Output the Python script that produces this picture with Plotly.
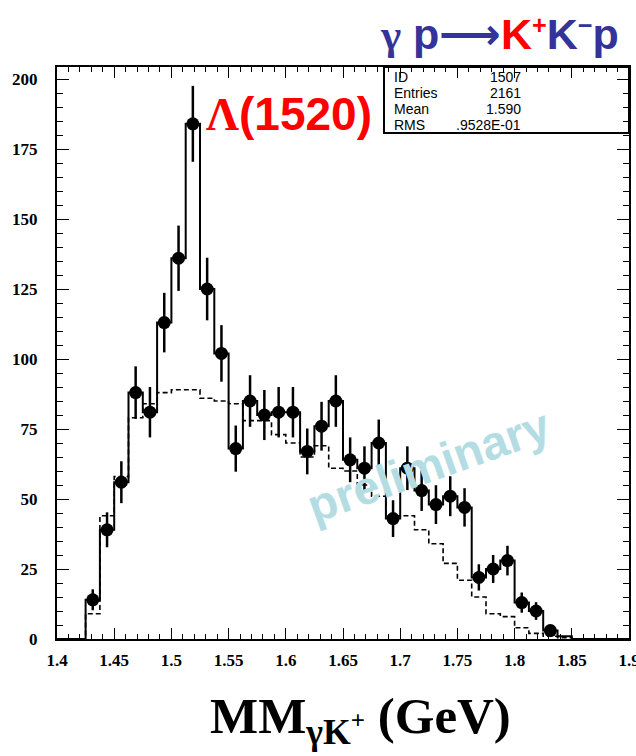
import numpy as np
import plotly.graph_objects as go

# Histogram definition
x_min = 1.4
bin_width = 0.0125
n_bins = 40

# Data counts per bin (data points with sqrt(N) errors)
counts = [0, 0, 14, 39, 56, 88, 81, 113, 136, 184,
          125, 102, 68, 85, 80, 81, 81, 67, 76, 85,
          64, 61, 70, 43, 61, 53, 48, 51, 47, 22,
          25, 28, 13, 10, 3, 1, 0, 0, 0, 0]

# Dashed (simulation) histogram per bin
sim = [0, 0, 9, 44, 58, 79, 84, 88, 89, 89,
       86, 85, 84, 78, 78, 73, 70, 65, 69, 61,
       60, 55, 51, 44, 44, 39, 34, 27, 21, 15,
       9, 8, 4, 2, 1, 0.5, 0, 0, 0, 0]

x_ticks = [1.4, 1.45, 1.5, 1.55, 1.6, 1.65, 1.7, 1.75, 1.8, 1.85, 1.9]
x_tick_labels = ["1.4", "1.45", "1.5", "1.55", "1.6", "1.65", "1.7", "1.75", "1.8", "1.85", "1.9"]
y_ticks = [0, 25, 50, 75, 100, 125, 150, 175, 200]
x_range = [1.4, 1.9]
y_range = [0, 204.3]

stats_labels = ["ID", "Entries", "Mean", "RMS"]
stats_values = ["1507", "2161", "1.590", ".9528E-01"]

edges = x_min + bin_width * np.arange(n_bins + 1)
centers = x_min + bin_width * (np.arange(n_bins) + 0.5)
counts_arr = np.array(counts, dtype=float)
sim_arr = np.array(sim, dtype=float)

fig = go.Figure()

# dashed histogram
fig.add_trace(go.Scatter(
    x=edges, y=np.append(sim_arr, sim_arr[-1]),
    mode="lines", line=dict(shape="hv", color="black", width=1.6, dash="5px,3px"),
    hoverinfo="skip", showlegend=False))

# solid histogram
fig.add_trace(go.Scatter(
    x=edges, y=np.append(counts_arr, counts_arr[-1]),
    mode="lines", line=dict(shape="hv", color="black", width=2),
    hoverinfo="skip", showlegend=False))

# data points (the single-entry bin shows no marker in the original)
mask = counts_arr > 1
fig.add_trace(go.Scatter(
    x=centers[mask], y=counts_arr[mask],
    mode="markers",
    marker=dict(symbol="circle", size=13, color="black"),
    error_y=dict(type="data", array=np.sqrt(counts_arr[mask]), width=0,
                 thickness=2.5, color="black"),
    showlegend=False))

# invisible trace so that the mirrored top/right axes are drawn
fig.add_trace(go.Scatter(x=x_range, y=y_range, xaxis="x2", yaxis="y2",
                         mode="markers", marker=dict(opacity=0),
                         hoverinfo="skip", showlegend=False))

L, R, T, B = 57, 7, 67, 117
W, H = 636, 756
pw = W - L - R
ph = H - T - B


def px(xp):
    return (xp - L) / pw


def py(yp):
    return (H - B - yp) / ph


tickfont = dict(family="Liberation Serif", size=17, color="black", weight="bold")
tick_common = dict(ticks="inside", tickwidth=1.3, tickcolor="black",
                   showgrid=False, zeroline=False, automargin=False)

fig.update_layout(
    width=W, height=H,
    margin=dict(l=L, r=R, t=T, b=B, autoexpand=False),
    plot_bgcolor="white", paper_bgcolor="white",
    xaxis=dict(
        range=x_range, tickvals=x_ticks, ticktext=x_tick_labels, ticklen=11,
        minor=dict(dtick=0.01, ticks="inside", ticklen=5, tickwidth=1.3, tickcolor="black"),
        showline=True, linewidth=2, linecolor="black", mirror=True,
        tickfont=tickfont, ticklabelstandoff=5, ticklabeloverflow="allow", **tick_common),
    yaxis=dict(
        range=y_range, tickvals=y_ticks, ticklen=12,
        minor=dict(dtick=5, ticks="inside", ticklen=6, tickwidth=1.3, tickcolor="black"),
        showline=True, linewidth=2, linecolor="black", mirror=True,
        tickfont=tickfont, ticklabelstandoff=14, ticklabeloverflow="allow", **tick_common),
    xaxis2=dict(
        range=x_range, tickvals=x_ticks, ticklen=11, overlaying="x", side="top",
        showticklabels=False,
        minor=dict(dtick=0.01, ticks="inside", ticklen=5, tickwidth=1.3, tickcolor="black"),
        **tick_common),
    yaxis2=dict(
        range=y_range, tickvals=y_ticks, ticklen=12, overlaying="y", side="right",
        showticklabels=False,
        minor=dict(dtick=5, ticks="inside", ticklen=6, tickwidth=1.3, tickcolor="black"),
        **tick_common),
)

# stats box
fig.add_shape(type="rect", xref="paper", yref="paper",
              x0=px(384), x1=1.0, y0=py(133), y1=1.0,
              line=dict(color="black", width=2), fillcolor="rgba(0,0,0,0)")

stat_y = [77, 93, 109, 125]
for lab, val, yy in zip(stats_labels, stats_values, stat_y):
    fig.add_annotation(xref="paper", yref="paper", x=px(392), y=py(yy),
                       text=lab, showarrow=False, xanchor="left", yanchor="middle",
                       font=dict(family="Liberation Sans", size=14, color="black"))
    fig.add_annotation(xref="paper", yref="paper", x=px(523), y=py(yy),
                       text=val, showarrow=False, xanchor="right", yanchor="middle",
                       font=dict(family="Liberation Sans", size=14, color="black"))

# reaction title
fig.add_annotation(
    xref="paper", yref="paper", x=px(621), y=py(34), xanchor="right", yanchor="middle",
    showarrow=False,
    text=("<span style='font-family:Liberation Serif'><b>γ</b></span> <b>p"
          "<span style='font-family:DejaVu Sans'>⟶</span>"
          "<span style='color:#ff0000'>K<span style='font-size:36px'><sup>+</sup></span></span>"
          "K<span style='font-size:36px'><sup>−</sup></span>p</b>"),
    font=dict(family="Liberation Sans", size=43, color="#333399"))

# Lambda label
fig.add_annotation(
    xref="paper", yref="paper", x=px(204), y=py(114), xanchor="left", yanchor="middle",
    showarrow=False,
    text="<span style='font-family:Liberation Serif'><b>Λ</b></span><b>(1520)</b>",
    font=dict(family="Liberation Sans", size=46, color="#ff0000"))

# preliminary watermark
fig.add_annotation(
    xref="paper", yref="paper", x=px(428), y=py(466), xanchor="center", yanchor="middle",
    showarrow=False, textangle=-19.5, text="<b>preliminary</b>",
    font=dict(family="Liberation Sans", size=47, color="#b4dde3"))

# x-axis title
fig.add_annotation(
    xref="paper", yref="paper", x=px(360), y=py(720), xanchor="center", yanchor="middle",
    showarrow=False,
    text="<b>MM<sub>γK<sup>+</sup></sub> (GeV)</b>",
    font=dict(family="Liberation Serif", size=51, color="black"))

fig.write_html("out.html", config={"displayModeBar": False},
               post_script="document.body.style.margin='0px';")
